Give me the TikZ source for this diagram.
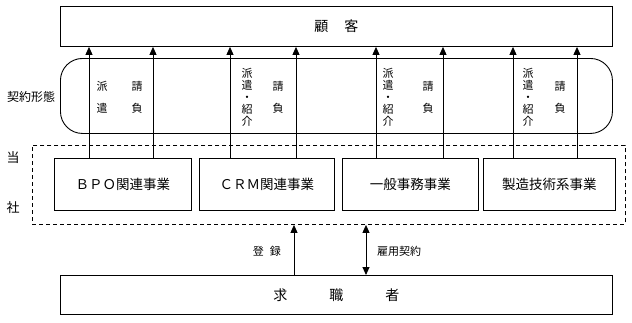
\documentclass[tikz,border=0pt]{standalone}
\usepackage{fontspec}
\setmainfont{Noto Sans CJK JP}
\usetikzlibrary{arrows.meta}

\begin{document}
\begin{tikzpicture}[x=1pt,y=-1pt,
    box/.style={draw,line width=0.9pt,anchor=north west,inner sep=0pt},
    arr/.style={line width=0.9pt,-{Triangle[width=7pt,length=8pt]}},
    lbl/.style={font=\fontsize{11}{12}\selectfont,align=center,inner sep=0pt},
    big/.style={font=\fontsize{14}{16}\selectfont}]
  \useasboundingbox (0,0) rectangle (632,322);
  % boxes
  \node[box,big,minimum width=552pt,minimum height=40pt] (cust) at (60,6) {顧\hspace{16pt}客};
  \node[box,rounded corners=22pt,minimum width=552pt,minimum height=75pt] (keiyaku) at (60,58) {};
  \node[box,dash pattern=on 4pt off 3pt,minimum width=593pt,minimum height=79pt] (tosha) at (32,145) {};
  \node[box,big,font=\fontsize{13.5}{16}\selectfont,minimum width=137pt,minimum height=52pt] (bpo) at (54,158) {ＢＰＯ関連事業};
  \node[box,big,font=\fontsize{13.5}{16}\selectfont,minimum width=135pt,minimum height=52pt] (crm) at (199,158) {ＣＲＭ関連事業};
  \node[box,big,font=\fontsize{13.5}{16}\selectfont,minimum width=136pt,minimum height=52pt] (ippan) at (342,158) {一般事務事業};
  \node[box,big,font=\fontsize{13.5}{16}\selectfont,minimum width=132pt,minimum height=52pt] (seizo) at (483,158) {製造技術系事業};
  \node[box,big,minimum width=552pt,minimum height=39pt] (kyushoku) at (60,275) {求\hspace{42pt}職\hspace{42pt}者};
  % side labels
  \node[lbl,font=\fontsize{12}{13}\selectfont] (keitai) at (31,97) {契約形態};
  \node[lbl,font=\fontsize{13}{14}\selectfont] (to) at (13,158) {当};
  \node[lbl,font=\fontsize{13}{14}\selectfont] (sha) at (13,208) {社};
  % contract types
  \node[lbl] (haken1) at (102,97) {派\\[10pt]遣};
  \node[lbl] (ukeoi1) at (137,97) {請\\[10pt]負};
  \foreach \n/\a/\b in {2/247/278,3/388/428,4/528/560} {
    \node[lbl] (haken\n) at (\a,97) {派\\遣\\・\\紹\\介};
    \node[lbl] (ukeoi\n) at (\b,97) {請\\[10pt]負};
  }
  % arrows to customer
  \foreach \n/\a/\b in {bpo/89/153,crm/230/296,ippan/376/443,seizo/513/577} {
    \draw[arr] (\n.north -| \a,0) -- (cust.south -| \a,0);
    \draw[arr] (\n.north -| \b,0) -- (cust.south -| \b,0);
  }
  % job seekers
  \draw[arr] (kyushoku.north -| 294,0) -- (tosha.south -| 294,0);
  \draw[arr,{Triangle[width=7pt,length=8pt]}-{Triangle[width=7pt,length=8pt]}] (tosha.south -| 366,0) -- (kyushoku.north -| 366,0);
  \node[lbl,anchor=east] (toroku) at (281,251) {登\hspace{6pt}録};
  \node[lbl,anchor=west] (koyo) at (377,251) {雇用契約};
\end{tikzpicture}
\end{document}
